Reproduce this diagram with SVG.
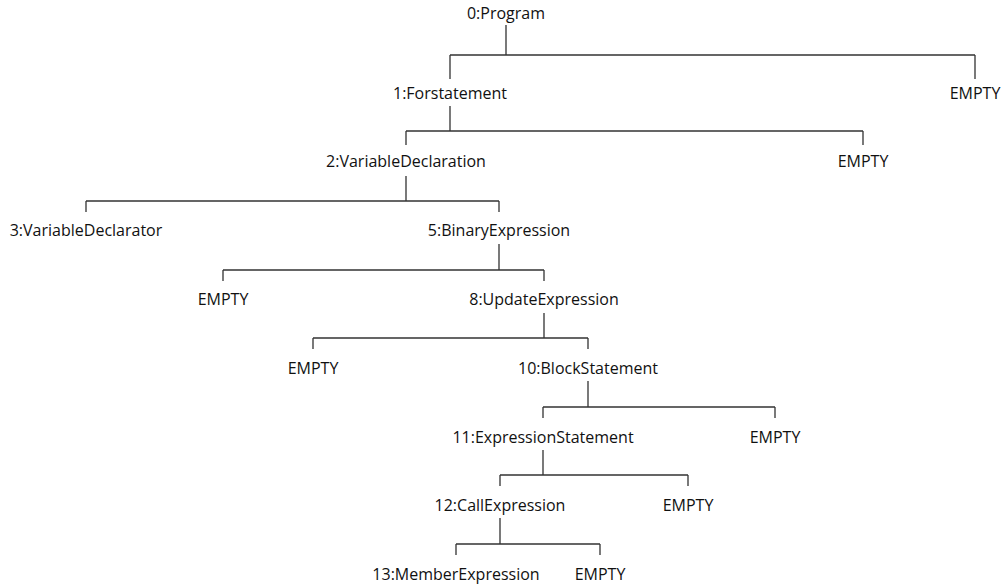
<svg xmlns="http://www.w3.org/2000/svg" width="1006" height="586" viewBox="0 0 1006 586">
  <style>
    .lbl { font-family: "Open Sans", "Noto Sans", "Liberation Sans", sans-serif; font-size: 16px; fill: #111; text-anchor: middle; }
    .edge { fill: none; stroke: #333; stroke-width: 1.3; }
  </style>
  <rect width="1006" height="586" fill="#fff"/>

  <!-- tree connectors: parent stem, sibling bar, child drops -->
  <g id="connectors" class="edge">
    <path d="M506,25 V55 M450,55 H975 M450,55 V79 M975,55 V79"/>
    <path d="M450,106 V131 M406,131 H863 M406,131 V145 M863,131 V145"/>
    <path d="M406,176 V201 M86,201 H499 M86,201 V212 M499,201 V212"/>
    <path d="M499,244 V270 M223,270 H544 M223,270 V281 M544,270 V281"/>
    <path d="M544,313 V338 M313,338 H588 M313,338 V349 M588,338 V349"/>
    <path d="M588,381 V407 M543,407 H775 M543,407 V418 M775,407 V418"/>
    <path d="M543,450 V475 M500,475 H688 M500,475 V486 M688,475 V486"/>
    <path d="M500,518 V544 M456,544 H600 M456,544 V555 M600,544 V555"/>
  </g>

  <g id="n0"><text class="lbl" x="506" y="19">0:Program</text></g>
  <g id="n1"><text class="lbl" x="450" y="99">1:Forstatement</text></g>
  <g id="n1e"><text class="lbl" x="975" y="99">EMPTY</text></g>
  <g id="n2"><text class="lbl" x="406" y="167">2:VariableDeclaration</text></g>
  <g id="n2e"><text class="lbl" x="863" y="167">EMPTY</text></g>
  <g id="n3"><text class="lbl" x="86" y="236">3:VariableDeclarator</text></g>
  <g id="n5"><text class="lbl" x="499" y="236">5:BinaryExpression</text></g>
  <g id="n5e"><text class="lbl" x="223" y="305">EMPTY</text></g>
  <g id="n8"><text class="lbl" x="544" y="305">8:UpdateExpression</text></g>
  <g id="n8e"><text class="lbl" x="313" y="374">EMPTY</text></g>
  <g id="n10"><text class="lbl" x="588" y="374">10:BlockStatement</text></g>
  <g id="n11"><text class="lbl" x="543" y="443">11:ExpressionStatement</text></g>
  <g id="n10e"><text class="lbl" x="775" y="443">EMPTY</text></g>
  <g id="n12"><text class="lbl" x="500" y="511">12:CallExpression</text></g>
  <g id="n11e"><text class="lbl" x="688" y="511">EMPTY</text></g>
  <g id="n13"><text class="lbl" x="456" y="580">13:MemberExpression</text></g>
  <g id="n12e"><text class="lbl" x="600" y="580">EMPTY</text></g>
</svg>
